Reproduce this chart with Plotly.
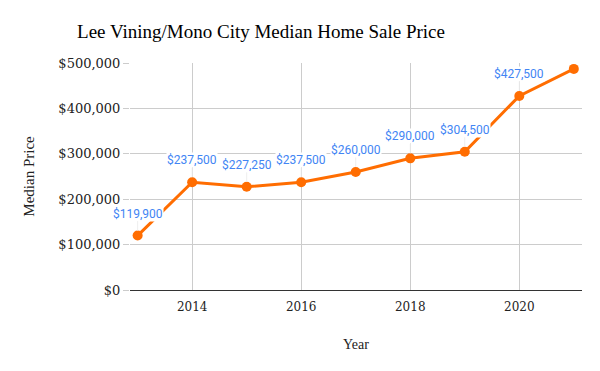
import plotly.graph_objects as go

years = [2013, 2014, 2015, 2016, 2017, 2018, 2019, 2020, 2021]
prices = [119900, 237500, 227250, 237500, 260000, 290000, 304500, 427500, 487000]
labels = ["$119,900", "$237,500", "$227,250", "$237,500", "$260,000",
          "$290,000", "$304,500", "$427,500", ""]
y_ticks = [0, 100000, 200000, 300000, 400000, 500000]
y_tick_text = ["$0", "$100,000", "$200,000", "$300,000", "$400,000", "$500,000"]
x_ticks = [2014, 2016, 2018, 2020]

serif = "'DejaVu Serif', serif"
title_font = "'Liberation Serif', serif"

fig = go.Figure()
fig.add_trace(go.Scatter(
    x=years, y=prices, mode="lines+markers",
    line=dict(color="#FF6D01", width=3),
    marker=dict(color="#FF6D01", size=10),
    hoverinfo="skip", showlegend=False,
))

for x, y, t in zip(years, prices, labels):
    if not t:
        continue
    fig.add_annotation(
        x=x, y=y, text=t, showarrow=True, arrowhead=0, arrowwidth=1,
        arrowcolor="#eeeeee", ax=0, ay=-22, standoff=5,
        bgcolor="white", borderpad=0,
        font=dict(family="Roboto, Arial, sans-serif", size=12, color="#4285F4"),
        yanchor="middle",
    )

fig.update_layout(
    width=600, height=371,
    margin=dict(l=130, r=18, t=63, b=81),
    paper_bgcolor="white", plot_bgcolor="white",
    title=dict(text="Lee Vining/Mono City Median Home Sale Price",
               x=261 / 600, xanchor="center", y=1 - 31 / 371, yanchor="middle",
               font=dict(family=title_font, size=19, color="#000000")),
    xaxis=dict(
        range=[2012.86, 2021.15], tickvals=x_ticks, automargin=False,
        showgrid=True, gridcolor="#cccccc", gridwidth=1,
        zeroline=False, showline=False, ticks="", ticklabelstandoff=8,
        tickfont=dict(family=serif, size=12, color="#222222"),
        title=dict(text="Year", font=dict(family=title_font, size=14, color="#222222"), standoff=26),
    ),
    yaxis=dict(
        range=[0, 500000], tickvals=y_ticks, ticktext=y_tick_text, automargin=False,
        showgrid=True, gridcolor="#cccccc", gridwidth=1,
        zeroline=True, zerolinecolor="#333333", zerolinewidth=1,
        ticks="outside", ticklen=6, tickcolor="#cccccc",
        tickfont=dict(family=serif, size=13, color="#222222"),
        title=dict(text="Median Price", font=dict(family=title_font, size=15, color="#222222"), standoff=20),
    ),
)

fig.write_html("out.html", config={"displayModeBar": False},
               post_script="document.body.style.margin='0px';")
